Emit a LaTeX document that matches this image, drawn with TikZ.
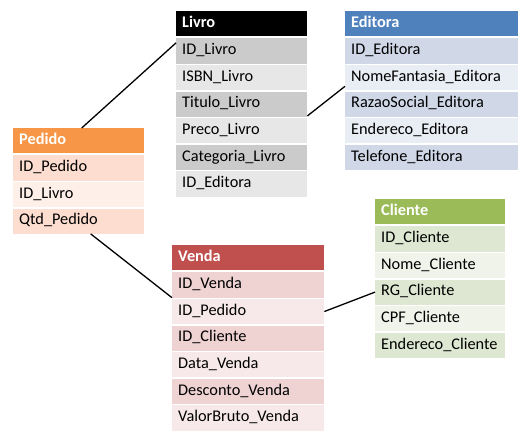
\documentclass[tikz,border=0pt]{standalone}
\usepackage{fontspec}
\setmainfont{Carlito}
\usetikzlibrary{positioning}

\definecolor{livrohead}{HTML}{000000}
\definecolor{livrodark}{HTML}{CBCBCB}
\definecolor{livrolight}{HTML}{E7E7E7}
\definecolor{editorahead}{HTML}{4F81BD}
\definecolor{editoradark}{HTML}{D0D8E8}
\definecolor{editoralight}{HTML}{E9EDF4}
\definecolor{pedidohead}{HTML}{F79646}
\definecolor{pedidodark}{HTML}{FCDDCF}
\definecolor{pedidolight}{HTML}{FEEFE8}
\definecolor{vendahead}{HTML}{C0504D}
\definecolor{vendadark}{HTML}{EFD3D2}
\definecolor{vendalight}{HTML}{F7E9E9}
\definecolor{clientehead}{HTML}{9BBB59}
\definecolor{clientedark}{HTML}{DEE7D1}
\definecolor{clientelight}{HTML}{EFF3EA}

\begin{document}
\begin{tikzpicture}[x=1pt, y=-1pt,
	field/.style={rectangle, anchor=north west, inner xsep=6pt, inner ysep=0pt, minimum height=25.2pt, text height=11pt, text depth=3.5pt, align=left, font=\fontsize{16.3}{19}\selectfont},
	head/.style={field, text=white, font=\fontsize{16.3}{19}\selectfont\bfseries},
	link/.style={line width=1.3pt, black}
	]

	\useasboundingbox (0,0) rectangle (528,440);

		% Livro
		\node (lhead) [head, text width=119pt, fill=livrohead] at (176,11) {Livro};
			\node (lid) [field, text width=119pt, fill=livrodark, below=1.5pt of lhead] {ID\_Livro};
			\node (lisbn) [field, text width=119pt, fill=livrolight, below=1pt of lid] {ISBN\_Livro};
			\node (ltitulo) [field, text width=119pt, fill=livrodark, below=1pt of lisbn] {Titulo\_Livro};
			\node (lpreco) [field, text width=119pt, fill=livrolight, below=1pt of ltitulo] {Preco\_Livro};
			\node (lcat) [field, text width=119pt, fill=livrodark, below=1pt of lpreco] {Categoria\_Livro};
			\node (leditora) [field, text width=119pt, fill=livrolight, below=1pt of lcat] {ID\_Editora};

		% Editora
		\node (ehead) [head, text width=161pt, fill=editorahead] at (345,11) {Editora};
			\node (eid) [field, text width=161pt, fill=editoradark, below=1.5pt of ehead] {ID\_Editora};
			\node (enome) [field, text width=161pt, fill=editoralight, below=1pt of eid] {NomeFantasia\_Editora};
			\node (erazao) [field, text width=161pt, fill=editoradark, below=1pt of enome] {RazaoSocial\_Editora};
			\node (eend) [field, text width=161pt, fill=editoralight, below=1pt of erazao] {Endereco\_Editora};
			\node (etel) [field, text width=161pt, fill=editoradark, below=1pt of eend] {Telefone\_Editora};

		% Pedido
		\node (phead) [head, text width=119pt, fill=pedidohead] at (13,128) {Pedido};
			\node (pid) [field, text width=119pt, fill=pedidodark, below=1.5pt of phead] {ID\_Pedido};
			\node (plivro) [field, text width=119pt, fill=pedidolight, below=1pt of pid] {ID\_Livro};
			\node (pqtd) [field, text width=119pt, fill=pedidodark, below=1pt of plivro] {Qtd\_Pedido};

		% Venda
		\node (vhead) [head, text width=140pt, fill=vendahead] at (172,245) {Venda};
			\node (vid) [field, text width=140pt, fill=vendadark, below=1.5pt of vhead] {ID\_Venda};
			\node (vpedido) [field, text width=140pt, fill=vendalight, below=1pt of vid] {ID\_Pedido};
			\node (vcliente) [field, text width=140pt, fill=vendadark, below=1pt of vpedido] {ID\_Cliente};
			\node (vdata) [field, text width=140pt, fill=vendalight, below=1pt of vcliente] {Data\_Venda};
			\node (vdesc) [field, text width=140pt, fill=vendadark, below=1pt of vdata] {Desconto\_Venda};
			\node (vvalor) [field, text width=140pt, fill=vendalight, below=1pt of vdesc] {ValorBruto\_Venda};

		% Cliente
		\node (chead) [head, text width=118pt, fill=clientehead] at (375,199) {Cliente};
			\node (cid) [field, text width=118pt, fill=clientedark, below=1.5pt of chead] {ID\_Cliente};
			\node (cnome) [field, text width=118pt, fill=clientelight, below=1pt of cid] {Nome\_Cliente};
			\node (crg) [field, text width=118pt, fill=clientedark, below=1pt of cnome] {RG\_Cliente};
			\node (ccpf) [field, text width=118pt, fill=clientelight, below=1pt of crg] {CPF\_Cliente};
			\node (cend) [field, text width=118pt, fill=clientedark, below=1pt of ccpf] {Endereco\_Cliente};

	\draw [link] ([yshift=8pt]lid.west) -- ([xshift=3pt]phead.north);
	\draw [link] ([yshift=2pt]lpreco.north east) -- ([yshift=5pt]erazao.north west);
	\draw [link] ([xshift=12pt]pqtd.south) -- (vid.south west);
	\draw [link] (vpedido.east) -- (crg.west);

\end{tikzpicture}
\end{document}
